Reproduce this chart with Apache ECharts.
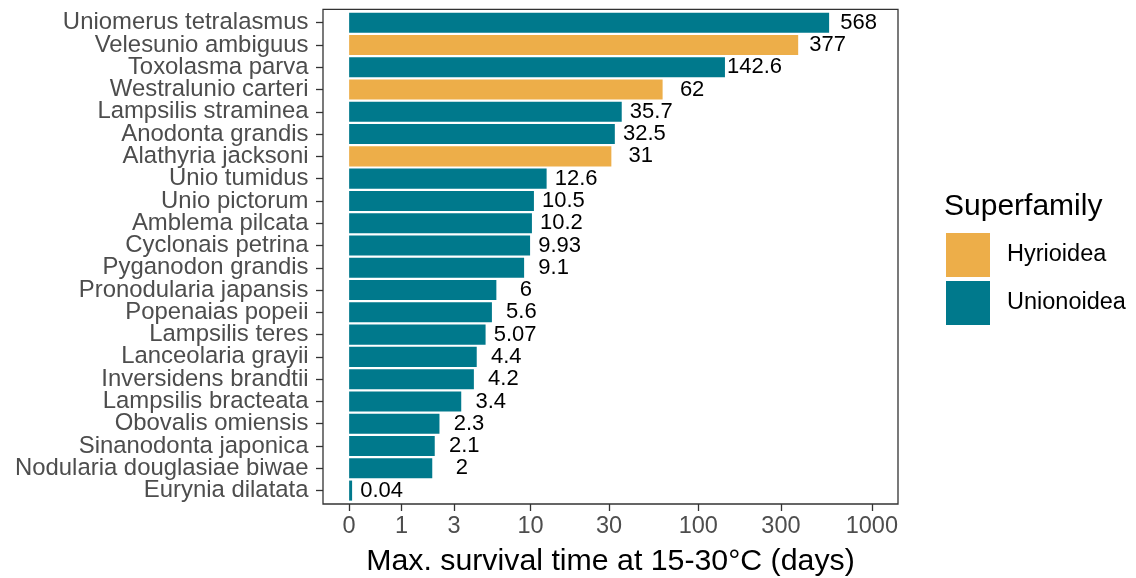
<!DOCTYPE html>
<html>
<head>
<meta charset="utf-8">
<script src="https://cdn.jsdelivr.net/npm/echarts@6/dist/echarts.min.js"></script>
<style>
  html, body { margin: 0; padding: 0; background: #fff; }
  #chart { width: 1136px; height: 578px; }
</style>
</head>
<body>
<div id="chart"></div>
<script>
// Species, top to bottom
const species = [
  'Uniomerus tetralasmus', 'Velesunio ambiguus', 'Toxolasma parva', 'Westralunio carteri',
  'Lampsilis straminea', 'Anodonta grandis', 'Alathyria jacksoni', 'Unio tumidus',
  'Unio pictorum', 'Amblema pilcata', 'Cyclonais petrina', 'Pyganodon grandis',
  'Pronodularia japansis', 'Popenaias popeii', 'Lampsilis teres', 'Lanceolaria grayii',
  'Inversidens brandtii', 'Lampsilis bracteata', 'Obovalis omiensis', 'Sinanodonta japonica',
  'Nodularia douglasiae biwae', 'Eurynia dilatata'
];
// Max. survival time (days)
const survivalDays = [
  568, 377, 142.6, 62, 35.7, 32.5, 31, 12.6, 10.5, 10.2, 9.93, 9.1,
  6, 5.6, 5.07, 4.4, 4.2, 3.4, 2.3, 2.1, 2, 0.04
];
// Superfamily of each species
const superfamily = [
  'Unionoidea', 'Hyrioidea', 'Unionoidea', 'Hyrioidea', 'Unionoidea', 'Unionoidea', 'Hyrioidea',
  'Unionoidea', 'Unionoidea', 'Unionoidea', 'Unionoidea', 'Unionoidea', 'Unionoidea', 'Unionoidea',
  'Unionoidea', 'Unionoidea', 'Unionoidea', 'Unionoidea', 'Unionoidea', 'Unionoidea', 'Unionoidea',
  'Unionoidea'
];
const groups = ['Hyrioidea', 'Unionoidea'];
const groupColors = { Hyrioidea: '#edae49', Unionoidea: '#00798c' };
// x-axis tick labels (days)
const xTicks = [0, 1, 3, 10, 30, 100, 300, 1000];

// log10(x + 1) transform for the x scale
const tf = v => Math.log10(v + 1);
const xMax = tf(1000);
const pad = xMax * 0.05;

const FONT = '"Liberation Sans", Arial, Helvetica, sans-serif';

function tickLabel(val) {
  let best = xTicks[0], bd = Infinity;
  xTicks.forEach(t => { const d = Math.abs(tf(t) - val); if (d < bd) { bd = d; best = t; } });
  return String(best);
}

const series = groups.map(g => ({
  name: g,
  type: 'bar',
  barWidth: '90%',
  barGap: '-100%',
  itemStyle: { color: groupColors[g] },
  data: survivalDays.map((v, i) => superfamily[i] === g ? tf(v) : null),
  label: {
    show: true,
    position: 'right',
    distance: 29.5,
    align: 'center',
    verticalAlign: 'middle',
    fontFamily: FONT,
    fontSize: 22,
    color: '#000',
    formatter: p => String(survivalDays[p.dataIndex])
  },
  emphasis: { disabled: true },
  animation: false
}));

const panel = { left: 323, top: 9.3, right: 898, bottom: 504 };
const gridTop = 11.53, gridH = 490.2;

const chart = echarts.init(document.getElementById('chart'), null, { renderer: 'canvas' });
chart.setOption({
  backgroundColor: '#fff',
  animation: false,
  grid: {
    left: panel.left, top: gridTop, width: panel.right - panel.left, height: gridH,
    containLabel: false, outerBoundsMode: 'none'
  },
  xAxis: {
    type: 'value',
    min: -pad,
    max: xMax + pad,
    offset: panel.bottom - (gridTop + gridH),
    splitLine: { show: false },
    axisLine: { show: false, onZero: false },
    axisTick: {
      show: true, length: 7,
      lineStyle: { color: '#333', width: 1.3 },
      customValues: xTicks.map(tf)
    },
    axisLabel: {
      customValues: xTicks.map(tf),
      formatter: tickLabel,
      fontFamily: FONT, fontSize: 23.5, color: '#4d4d4d', margin: 10.5
    },
    name: 'Max. survival time at 15-30°C (days)',
    nameLocation: 'middle',
    nameGap: 43,
    nameTextStyle: { fontFamily: FONT, fontSize: 30.3, color: '#000' }
  },
  yAxis: {
    type: 'category',
    inverse: true,
    data: species,
    axisLine: { show: false, onZero: false },
    axisTick: { show: true, alignWithLabel: true, interval: 0, length: 7, lineStyle: { color: '#333', width: 1.3 } },
    axisLabel: { interval: 0, fontFamily: FONT, fontSize: 23.9, color: '#4d4d4d', margin: 14.5 },
    splitLine: { show: false }
  },
  legend: {
    orient: 'vertical',
    left: 946,
    top: 233,
    padding: 0,
    itemWidth: 44,
    itemHeight: 44,
    itemGap: 4,
    icon: 'rect',
    selectedMode: false,
    data: groups,
    textStyle: { fontFamily: FONT, fontSize: 23.5, color: '#000', padding: [0, 0, 0, 12] }
  },
  graphic: [
    {
      type: 'rect',
      z: 10,
      shape: { x: panel.left, y: panel.top, width: panel.right - panel.left, height: panel.bottom - panel.top },
      style: { fill: null, stroke: '#333', lineWidth: 1.3 },
      silent: true
    },
    {
      type: 'text',
      left: 944,
      top: 192,
      style: { text: 'Superfamily', font: '30px ' + FONT, fill: '#000' },
      silent: true
    }
  ],
  series: series
});
</script>
</body>
</html>
